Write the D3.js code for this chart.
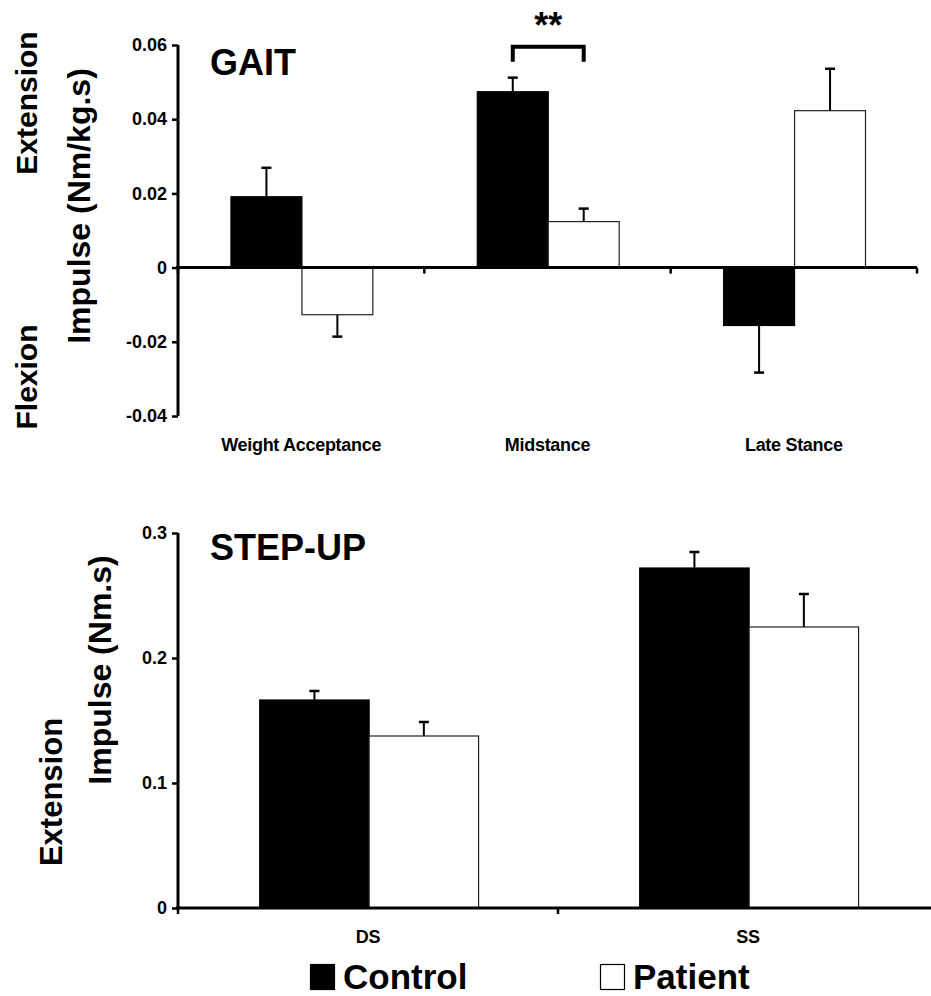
<!DOCTYPE html>
<html>
<head>
<meta charset="utf-8">
<script src="https://cdn.jsdelivr.net/npm/d3@7"></script>
<style>
  html, body { margin: 0; padding: 0; background: #fff; }
  svg { display: block; font-family: "Liberation Sans", Arial, Helvetica, sans-serif; font-weight: bold; }
</style>
</head>
<body>
<svg id="chart" width="931" height="996"></svg>
<script>
// Hip impulse, Control vs Patient (mean + SE)
const groups = ["Control", "Patient"];

// GAIT panel
const gaitPhases = ["Weight Acceptance", "Midstance", "Late Stance"];
const gaitControl = [0.0191, 0.0474, -0.0156];
const gaitControlErr = [0.0078, 0.0038, 0.0127];
const gaitPatient = [-0.0127, 0.0124, 0.0423];
const gaitPatientErr = [0.0059, 0.0035, 0.0113];
const gaitTicks = [-0.04, -0.02, 0, 0.02, 0.04, 0.06];
const gaitTickLabels = ["-0.04", "-0.02", "0", "0.02", "0.04", "0.06"];

// STEP-UP panel
const stepPhases = ["DS", "SS"];
const stepControl = [0.1664, 0.2720];
const stepControlErr = [0.0072, 0.0128];
const stepPatient = [0.1376, 0.2248];
const stepPatientErr = [0.0112, 0.0264];
const stepTicks = [0, 0.1, 0.2, 0.3];
const stepTickLabels = ["0", "0.1", "0.2", "0.3"];

const fills = { Control: "#000", Patient: "#fff" };

const svg = d3.select("#chart");

function panel(opts) {
  const g = svg.append("g");
  const y = d3.scaleLinear().domain(opts.yDomain).range([opts.bottom, opts.top]);
  const x0 = d3.scaleBand().domain(opts.phases).range([opts.left, opts.right]).padding(0);
  const bw = x0.bandwidth();
  const x1 = d3.scaleBand().domain(groups).range([0.215 * bw, 0.215 * bw + 0.576 * bw]).padding(0);

  const rows = [];
  opts.phases.forEach((p, i) => {
    rows.push({ phase: p, group: "Control", v: opts.control[i], e: opts.controlErr[i] });
    rows.push({ phase: p, group: "Patient", v: opts.patient[i], e: opts.patientErr[i] });
  });

  // error bars (drawn first so the bar edge covers the stem base)
  const eb = g.append("g");
  rows.forEach(d => {
    const cx = x0(d.phase) + x1(d.group) + x1.bandwidth() / 2;
    const tip = d.v >= 0 ? d.v + d.e : d.v - d.e;
    eb.append("line").attr("x1", cx).attr("x2", cx)
      .attr("y1", y(d.v)).attr("y2", y(tip))
      .attr("stroke", "#000").attr("stroke-width", 2);
    eb.append("line").attr("x1", cx - 5).attr("x2", cx + 5)
      .attr("y1", y(tip)).attr("y2", y(tip))
      .attr("stroke", "#000").attr("stroke-width", 2.5);
  });

  // bars
  g.append("g").selectAll("rect").data(rows).join("rect")
    .attr("x", d => x0(d.phase) + x1(d.group))
    .attr("width", x1.bandwidth())
    .attr("y", d => Math.min(y(0), y(d.v)))
    .attr("height", d => Math.abs(y(d.v) - y(0)))
    .attr("fill", d => fills[d.group])
    .attr("stroke", d => d.group === "Patient" ? "#222" : "#000")
    .attr("stroke-width", 1.2);

  // y axis
  const yAxis = d3.axisLeft(y).tickValues(opts.ticks)
    .tickFormat((d, i) => opts.tickLabels[i]).tickSize(6).tickPadding(5);
  const ya = g.append("g").attr("transform", `translate(${opts.left},0)`).call(yAxis);
  ya.select(".domain").attr("stroke-width", 3).attr("d", `M0,${opts.top}V${opts.bottom}`);
  ya.selectAll(".tick line").attr("stroke-width", 2.5);
  ya.selectAll(".tick text").attr("font-size", 18).attr("font-weight", "bold")
    .attr("font-family", "'Liberation Sans', Arial, sans-serif").attr("fill", "#000");

  // x axis along the zero line
  const xTicks = [opts.left].concat(opts.phases.map(p => x0(p) + bw));
  const xa = g.append("g");
  xa.append("line").attr("x1", opts.left - 2).attr("x2", opts.right)
    .attr("y1", y(0)).attr("y2", y(0)).attr("stroke", "#000").attr("stroke-width", 3);
  xa.selectAll("line.xt").data(xTicks).join("line").attr("class", "xt")
    .attr("x1", d => d).attr("x2", d => d)
    .attr("y1", y(0)).attr("y2", y(0) + 6)
    .attr("stroke", "#000").attr("stroke-width", 2.5);

  // category labels
  g.append("g").selectAll("text").data(opts.phases).join("text")
    .attr("x", d => x0(d) + bw / 2)
    .attr("y", opts.labelY)
    .attr("text-anchor", "middle")
    .attr("font-size", 18)
    .attr("letter-spacing", -0.3)
    .text(d => d);

  return { g, x0, x1, y };
}

// ---- GAIT ----
const gait = panel({
  phases: gaitPhases, control: gaitControl, controlErr: gaitControlErr,
  patient: gaitPatient, patientErr: gaitPatientErr,
  yDomain: [-0.04, 0.06], ticks: gaitTicks, tickLabels: gaitTickLabels,
  left: 178, right: 917, top: 45, bottom: 416, labelY: 451
});

svg.append("text").attr("x", 210).attr("y", 75).attr("font-size", 36).text("GAIT");

// significance bracket over Midstance
{
  const cx1 = gait.x0("Midstance") + gait.x1("Control") + gait.x1.bandwidth() / 2;
  const cx2 = gait.x0("Midstance") + gait.x1("Patient") + gait.x1.bandwidth() / 2;
  const by = gait.y(0.0595);
  svg.append("path")
    .attr("d", `M${cx1},${by + 15}V${by}H${cx2}V${by + 15}`)
    .attr("fill", "none").attr("stroke", "#000").attr("stroke-width", 4);
  svg.append("text").attr("x", (cx1 + cx2) / 2).attr("y", 38)
    .attr("text-anchor", "middle").attr("font-size", 36).text("**");
}

svg.append("text").attr("transform", "translate(90,206) rotate(-90)")
  .attr("text-anchor", "middle").attr("font-size", 32).text("Impulse (Nm/kg.s)");
svg.append("text").attr("transform", "translate(37,103) rotate(-90)")
  .attr("text-anchor", "middle").attr("font-size", 30).text("Extension");
svg.append("text").attr("transform", "translate(37,377) rotate(-90)")
  .attr("text-anchor", "middle").attr("font-size", 30).text("Flexion");

// ---- STEP-UP ----
const step = panel({
  phases: stepPhases, control: stepControl, controlErr: stepControlErr,
  patient: stepPatient, patientErr: stepPatientErr,
  yDomain: [0, 0.3], ticks: stepTicks, tickLabels: stepTickLabels,
  left: 178, right: 938, top: 533, bottom: 908, labelY: 943
});

svg.append("text").attr("x", 210).attr("y", 560).attr("font-size", 36).text("STEP-UP");

svg.append("text").attr("transform", "translate(111,670) rotate(-90)")
  .attr("text-anchor", "middle").attr("font-size", 32).text("Impulse (Nm.s)");
svg.append("text").attr("transform", "translate(62,792) rotate(-90)")
  .attr("text-anchor", "middle").attr("font-size", 31).text("Extension");

// ---- legend ----
const legend = svg.append("g");
const legendX = [310, 600];
groups.forEach((grp, i) => {
  legend.append("rect").attr("x", legendX[i] + 0.5).attr("y", 964.5)
    .attr("width", 24).attr("height", 25)
    .attr("fill", fills[grp]).attr("stroke", "#000").attr("stroke-width", 1.2);
  legend.append("text").attr("x", legendX[i] + 33).attr("y", 989)
    .attr("font-size", 35).text(grp);
});
</script>
</body>
</html>
